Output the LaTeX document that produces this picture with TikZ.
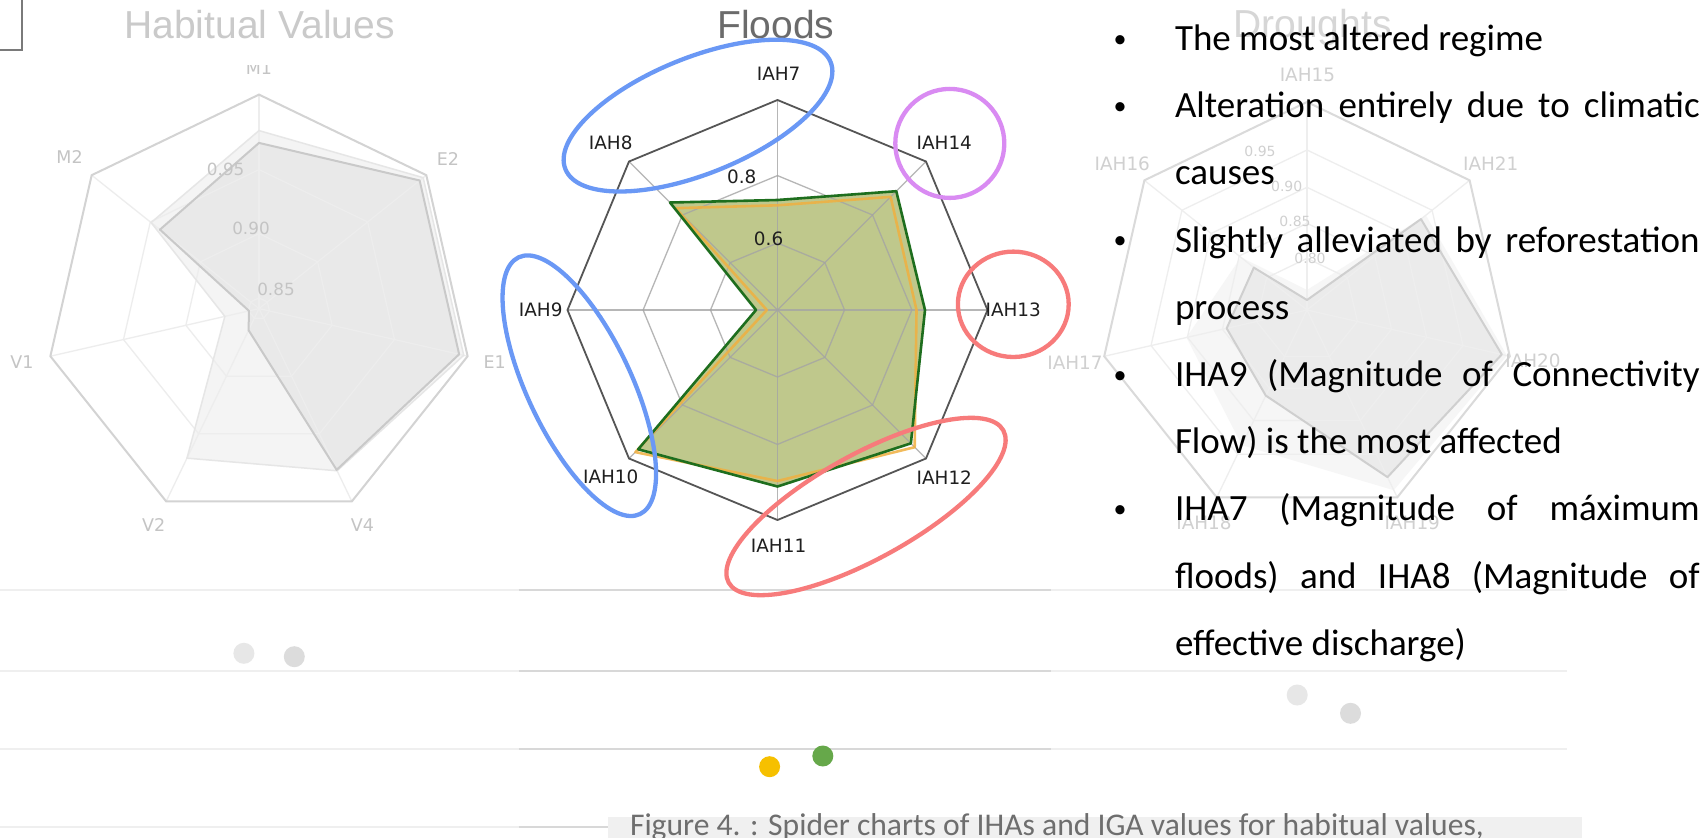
\documentclass[tikz,border=0pt]{standalone}
\usepackage{fontspec}
\setmainfont{Liberation Sans}
\newfontfamily\dejavu{DejaVu Sans}
\newfontfamily\carlito{Carlito}
\usetikzlibrary{calc}

% habitual-values chart (faded)
\definecolor{habOuter}{HTML}{D3D3D3}
\definecolor{habGridC}{HTML}{EDEDED}
\definecolor{habDark}{HTML}{E9E9E9}
\definecolor{habDarkEdge}{HTML}{C9C9C9}
\definecolor{habLight}{HTML}{F4F4F4}
\definecolor{habLightEdge}{HTML}{E6E6E6}
\definecolor{habLab}{HTML}{C4C4C4}
\definecolor{habTitle}{HTML}{CACACA}
% floods chart
\definecolor{floodOuter}{HTML}{555555}
\definecolor{floodGrid}{HTML}{A4A4A4}
\definecolor{floodFill}{HTML}{BFC88C}
\definecolor{floodGreen}{HTML}{1E6E1E}
\definecolor{floodOrange}{HTML}{F0B040}
\definecolor{floodLab}{HTML}{1F1F1F}
\definecolor{floodTitle}{HTML}{6B6B6B}
% droughts chart (faded)
\definecolor{drOuter}{HTML}{DADADA}
\definecolor{drGrid}{HTML}{EEEEEE}
\definecolor{drDark}{HTML}{EBEBEB}
\definecolor{drDarkEdge}{HTML}{CFCFCF}
\definecolor{drLight}{HTML}{F6F6F6}
\definecolor{drLab}{HTML}{D0D0D0}
\definecolor{drTitle}{HTML}{D6D6D6}
% legend strips, caption, highlight rings
\definecolor{lightLine}{HTML}{EFEFEF}
\definecolor{darkLine}{HTML}{D8D8D8}
\definecolor{dotA}{HTML}{E7E7E7}
\definecolor{dotB}{HTML}{DCDCDC}
\definecolor{dotYellow}{HTML}{F6C000}
\definecolor{dotGreen}{HTML}{66A84A}
\definecolor{capBox}{HTML}{F0F0F0}
\definecolor{capText}{HTML}{6E6E6E}
\definecolor{boxGray}{HTML}{7A7A7A}
\definecolor{hoopBlue}{HTML}{6A98F5}
\definecolor{hoopRed}{HTML}{F77B7B}
\definecolor{hoopPurple}{HTML}{D98BF2}

\begin{document}
\begin{tikzpicture}[x=1pt, y=-1pt,
  every node/.style={inner sep=0pt, outer sep=0pt},
  charttitle/.style={font=\fontsize{39}{44}\selectfont, anchor=base},
  hablabel/.style={font=\dejavu\fontsize{17.5}{20}\selectfont, text=habLab},
  habtick/.style={font=\dejavu\fontsize{16.8}{20}\selectfont, text=habLab},
  floodlabel/.style={font=\dejavu\fontsize{18.4}{21}\selectfont, text=floodLab},
  droughtlabel/.style={font=\dejavu\fontsize{18.4}{21}\selectfont, text=drLab},
  droughttick/.style={font=\dejavu\fontsize{14}{17}\selectfont, text=drLab},
  bodyline/.style={font=\carlito\fontsize{37}{44}\selectfont, anchor=base west, text=black},
  bulletmark/.style={font=\carlito\fontsize{26}{30}\selectfont, anchor=base, text=black},
  hoop/.style={line width=4.3pt},
  legendline/.style={line width=2.2pt},
  swatch/.style={circle, minimum size=21pt},
]
\useasboundingbox (0,0) rectangle (1703,838);
\clip (0,0) rectangle (1703,838);
\fill[white] (0,0) rectangle (1703,838);

% corner frame
\draw[boxGray, line width=2] (-10,-10) rectangle (22.3,50);

% ---------------- Habitual values ----------------
\node[charttitle, text=habTitle] (habtitle) at (259.5,38.3) {Habitual Values};
\begin{scope}[shift={(259,308.6)}, y=1pt]
  \fill[habLight] (90:178) -- (38.5714:210) -- (-12.8571:210) -- (-64.2857:180)
     -- (-115.7143:166) -- (-167.1429:35) -- (141.4286:138) -- cycle;
  \fill[habDark] (90:165.7) -- (38.5714:205.5) -- (-12.8571:205.3) -- (-64.2857:179)
     -- (-115.7143:24) -- (-167.1429:10.3) -- (141.4286:126.7) -- cycle;
  \foreach \r in {10.7,75,139}
    \draw[habGridC, line width=1.3]
      plot[samples at={90,38.5714,-12.8571,-64.2857,-115.7143,-167.1429,141.4286}] (\x:\r) -- cycle;
  \foreach \a in {90,38.5714,-12.8571,-64.2857,-115.7143,-167.1429,141.4286}
    \draw[habGridC, line width=1.3] (0,0) -- (\a:214);
  \draw[habLightEdge, line width=1.5] (90:178) -- (38.5714:210) -- (-12.8571:210) -- (-64.2857:180)
     -- (-115.7143:166) -- (-167.1429:35) -- (141.4286:138) -- cycle;
  \draw[habOuter, line width=2]
    plot[samples at={90,38.5714,-12.8571,-64.2857,-115.7143,-167.1429,141.4286}] (\x:214) -- cycle;
  \draw[habDarkEdge, line width=2, line join=round] (90:165.7) -- (38.5714:205.5) -- (-12.8571:205.3) -- (-64.2857:179)
     -- (-115.7143:24) -- (-167.1429:10.3) -- (141.4286:126.7) -- cycle;
\end{scope}
\begin{scope}
  \clip (220,65.5) rectangle (300,80);
  \node[hablabel] (hM1) at (259,67.9) {M1};
\end{scope}
\node[hablabel] (hM2) at (69.6,157) {M2};
\node[hablabel] (hE2) at (448,159) {E2};
\node[hablabel] (hE1) at (494.6,362.5) {E1};
\node[hablabel] (hV4) at (362.5,525) {V4};
\node[hablabel] (hV2) at (153.6,525) {V2};
\node[hablabel] (hV1) at (22,362.5) {V1};
\node[habtick] (h95) at (225.7,169.6) {0.95};
\node[habtick] (h90) at (251,228.6) {0.90};
\node[habtick] (h85) at (276,289) {0.85};

% ---------------- Floods ----------------
\node[charttitle, text=floodTitle] (floodtitle) at (775.7,38.8) {Floods};
\begin{scope}[shift={(777.5,310)}, y=1pt]
  \fill[floodFill] (90:110) -- (45:168) -- (0:147.5) -- (-45:188.6) -- (-90:176.5)
     -- (-135:197) -- (180:21.5) -- (135:152) -- cycle;
  \foreach \r in {67,134.4}
    \draw[floodGrid, line width=1.3, opacity=0.8]
      plot[samples at={90,45,0,-45,-90,-135,180,135}] (\x:\r) -- cycle;
  \foreach \a in {90,45,0,-45,-90,-135,180,135}
    \draw[floodGrid, line width=1.3, opacity=0.8] (0,0) -- (\a:210);
  \draw[floodOuter, line width=1.8]
    plot[samples at={90,45,0,-45,-90,-135,180,135}] (\x:210) -- cycle;
  \draw[floodOrange, line width=2.6, line join=round, opacity=0.85] (90:104.7) -- (45:160) -- (0:139) -- (-45:194)
     -- (-90:171) -- (-135:201) -- (180:10.7) -- (135:144) -- cycle;
  \draw[floodGreen, line width=2.6, line join=round] (90:110) -- (45:168) -- (0:147.5) -- (-45:188.6)
     -- (-90:176.5) -- (-135:197) -- (180:21.5) -- (135:152) -- cycle;
\end{scope}
\node[floodlabel] (f7) at (778.6,74) {IAH7};
\node[floodlabel] (f8) at (610.7,142.4) {IAH8};
\node[floodlabel] (f14) at (944.3,142.4) {IAH14};
\node[floodlabel] (f9) at (540.7,310) {IAH9};
\node[floodlabel] (f13) at (1013.2,310) {IAH13};
\node[floodlabel] (f10) at (610.7,477.2) {IAH10};
\node[floodlabel] (f12) at (944.3,477.2) {IAH12};
\node[floodlabel] (f11) at (778.6,545.7) {IAH11};
\node[floodlabel] (f08) at (741.8,176.8) {0.8};
\node[floodlabel] (f06) at (768.6,238.6) {0.6};

% ---------------- Droughts (faded) ----------------
\node[charttitle, text=drTitle] (drtitle) at (1312.4,37.5) {Droughts};
\begin{scope}[shift={(1307,310)}, y=1pt]
  \fill[drLight] (90:20) -- (38.5714:152) -- (-12.8571:205) -- (-64.2857:200)
     -- (-115.7143:150) -- (-167.1429:123.6) -- (141.4286:84.6) -- cycle;
  \fill[drDark] (90:10) -- (38.5714:145.8) -- (-12.8571:199.8) -- (-64.2857:185.5)
     -- (-115.7143:95) -- (-167.1429:82.4) -- (141.4286:68) -- cycle;
  \foreach \r in {51.7,86.7,122.7,160}
    \draw[drGrid, line width=1.3]
      plot[samples at={90,38.5714,-12.8571,-64.2857,-115.7143,-167.1429,141.4286}] (\x:\r) -- cycle;
  \foreach \a in {90,38.5714,-12.8571,-64.2857,-115.7143,-167.1429,141.4286}
    \draw[drGrid, line width=1.3] (0,0) -- (\a:208);
  \draw[drOuter, line width=2]
    plot[samples at={90,38.5714,-12.8571,-64.2857,-115.7143,-167.1429,141.4286}] (\x:208) -- cycle;
  \draw[drDarkEdge, line width=2, line join=round] (90:10) -- (38.5714:145.8) -- (-12.8571:199.8) -- (-64.2857:185.5)
     -- (-115.7143:95) -- (-167.1429:82.4) -- (141.4286:68) -- cycle;
\end{scope}
\node[droughtlabel] (d15) at (1307.4,75) {IAH15};
\node[droughtlabel] (d21) at (1490.7,164) {IAH21};
\node[droughtlabel] (d16) at (1122.3,164) {IAH16};
\node[droughtlabel] (d17) at (1075,362.5) {IAH17};
\node[droughtlabel] (d20) at (1533,360.7) {IAH20};
\node[droughtlabel] (d18) at (1204,523.2) {IAH18};
\node[droughtlabel] (d19) at (1412.3,523.2) {IAH19};
\node[droughttick] (d95) at (1260,151.7) {0.95};
\node[droughttick] (d90) at (1286.7,186.7) {0.90};
\node[droughttick] (d85) at (1295,221.7) {0.85};
\node[droughttick] (d80) at (1310,258.3) {0.80};

% ---------------- legend strips and markers ----------------
\foreach \yy in {590,671,749.3,826.7}
  \draw[lightLine, legendline] (0,\yy) -- (518.7,\yy);
\foreach \yy in {590,671,749.3,826.7}
  \draw[darkLine, legendline] (518.7,\yy) -- (1051,\yy);
\foreach \yy in {590,671,749.3}
  \draw[lightLine, legendline] (1051,\yy) -- (1567,\yy);
\node[swatch, fill=dotA] (gA) at (243.9,653.3) {};
\node[swatch, fill=dotB] (gB) at (294.3,656.7) {};
\node[swatch, fill=dotYellow] (gY) at (769.6,766.7) {};
\node[swatch, fill=dotGreen] (gG) at (822.8,756) {};
\node[swatch, fill=dotA] (gC) at (1297.2,695) {};
\node[swatch, fill=dotB] (gD) at (1350.5,713.3) {};

% ---------------- highlight rings ----------------
\draw[hoop, draw=hoopBlue, rotate around={22:(698,115.6)}] (698,115.6) ellipse [x radius=143, y radius=58];
\draw[hoop, draw=hoopBlue, rotate around={-64.7:(579.3,385.7)}] (579.3,385.7) ellipse [x radius=142, y radius=52];
\draw[hoop, draw=hoopPurple] (949.8,143.4) circle [radius=54.5];
\draw[hoop, draw=hoopRed] (1013.3,304.3) ellipse [x radius=55.4, y radius=52.7];
\draw[hoop, draw=hoopRed, rotate around={29:(866,506.5)}] (866,506.5) ellipse [x radius=157, y radius=52];

% ---------------- bullet list ----------------
\node[bulletmark] (b1) at (1120,47.3) {\textbullet};
\node[bodyline] (l1) at (1175,50.5) {The most altered regime};
\node[bulletmark] (b2) at (1120,114.5) {\textbullet};
\node[bodyline] (l2) at (1175,117.7) {\makebox[524.7pt][s]{Alteration entirely due to climatic}};
\node[bodyline] (l3) at (1175,184.9) {causes};
\node[bulletmark] (b4) at (1120,248.9) {\textbullet};
\node[bodyline] (l4) at (1175,252.1) {\makebox[524.7pt][s]{Slightly alleviated by reforestation}};
\node[bodyline] (l5) at (1175,319.3) {process};
\node[bulletmark] (b6) at (1120,383.3) {\textbullet};
\node[bodyline] (l6) at (1175,386.5) {\makebox[524.7pt][s]{IHA9 (Magnitude of Connectivity}};
\node[bodyline] (l7) at (1175,453.7) {Flow) is the most affected};
\node[bulletmark] (b8) at (1120,517.7) {\textbullet};
\node[bodyline] (l8) at (1175,520.9) {\makebox[524.7pt][s]{IHA7 (Magnitude of máximum}};
\node[bodyline] (l9) at (1175,588.1) {\makebox[524.7pt][s]{floods) and IHA8 (Magnitude of}};
\node[bodyline] (l10) at (1175,655.3) {effective discharge)};

% ---------------- caption ----------------
\fill[capBox] (608.3,816.5) rectangle (1581.8,842);
\node[font=\carlito\fontsize{31.6}{36}\selectfont, text=capText, anchor=base west] (caption)
  at (630,835) {Figure 4. : Spider charts of IHAs and IGA values for habitual values,};
\end{tikzpicture}
\end{document}
